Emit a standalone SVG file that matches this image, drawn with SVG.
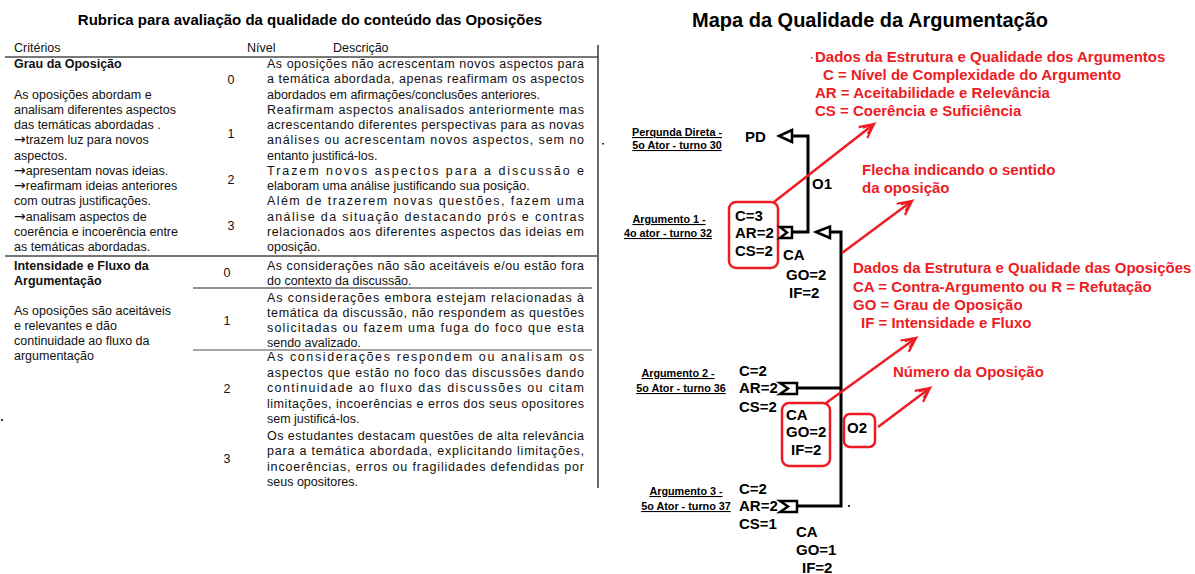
<svg xmlns="http://www.w3.org/2000/svg" width="1195" height="574" viewBox="0 0 1195 574">
<style>
.t{font-family:"Liberation Sans",Arial,sans-serif;font-size:12.5px;fill:#111}
.b{font-weight:bold}
.ar{font-family:"DejaVu Sans",sans-serif;font-size:14px}
.h1{font-family:"Liberation Sans",Arial,sans-serif;font-weight:bold;fill:#000}
.n{font-family:"Liberation Sans",Arial,sans-serif;font-weight:bold;font-size:15px;fill:#000}
.lab{font-family:"Liberation Sans",Arial,sans-serif;font-weight:bold;font-size:10.8px;fill:#000;text-decoration:underline}
.r{font-family:"Liberation Sans",Arial,sans-serif;font-weight:bold;font-size:15px;fill:#ed1c24}
.conn{stroke:#000;stroke-width:3;fill:none}
.tri{stroke:#000;stroke-width:2.5;fill:#fff;stroke-linejoin:miter}
.rbox{stroke:#ed1c24;stroke-width:2.5;fill:none}
.rarr{stroke:#ed1c24;stroke-width:2.5;fill:none;marker-end:url(#rh)}
</style>
<defs>
<marker id="rh" markerUnits="userSpaceOnUse" markerWidth="20" markerHeight="20" refX="16" refY="8" orient="auto">
<path d="M2,1 L16,8 L2,15 M5,4 L16,8 L5,12" stroke="#ed1c24" stroke-width="2.2" fill="none"/>
</marker>
</defs>
<rect width="1195" height="574" fill="#fff"/>

<g id="table">
<text class="h1" x="310" y="25" font-size="15" text-anchor="middle">Rubrica para avaliação da qualidade do conteúdo das Oposições</text>
<text class="t" x="14" y="52">Critérios</text>
<text class="t" x="247" y="52">Nível</text>
<text class="t" x="333" y="52">Descrição</text>
<line x1="5" y1="57" x2="598" y2="57" stroke="#777" stroke-width="2"/>
<line x1="598" y1="45" x2="598" y2="488" stroke="#333" stroke-width="1.5"/>
<line x1="5" y1="256" x2="598" y2="256" stroke="#777" stroke-width="2"/>
<line x1="193" y1="288" x2="592" y2="288" stroke="#222" stroke-width="1.2"/>
<line x1="193" y1="350" x2="592" y2="350" stroke="#888" stroke-width="1.5"/>

<text class="t b" x="14" y="68">Grau da Oposição</text>
<text class="t" x="14" y="98.5">As oposições abordam e</text>
<text class="t" x="14" y="113.75">analisam diferentes aspectos</text>
<text class="t" x="14" y="129">das temáticas abordadas .</text>
<text class="t" x="14" y="144.25"><tspan class="ar">→</tspan>trazem luz para novos</text>
<text class="t" x="14" y="159.5">aspectos.</text>
<text class="t" x="14" y="174.75"><tspan class="ar">→</tspan>apresentam novas ideias.</text>
<text class="t" x="14" y="190"><tspan class="ar">→</tspan>reafirmam ideias anteriores</text>
<text class="t" x="14" y="205.25">com outras justificações.</text>
<text class="t" x="14" y="220.5"><tspan class="ar">→</tspan>analisam aspectos de</text>
<text class="t" x="14" y="235.75">coerência e incoerência entre</text>
<text class="t" x="14" y="251">as temáticas abordadas.</text>

<text class="t" x="231" y="84" text-anchor="middle">0</text>
<text class="t" x="231" y="138" text-anchor="middle">1</text>
<text class="t" x="231" y="184" text-anchor="middle">2</text>
<text class="t" x="231" y="230" text-anchor="middle">3</text>

<text class="t" x="267" y="68" textLength="317" lengthAdjust="spacing">As oposições não  acrescentam novos aspectos para</text>
<text class="t" x="267" y="83.25" textLength="317" lengthAdjust="spacing">a temática abordada, apenas reafirmam os aspectos</text>
<text class="t" x="267" y="98.5">abordados em afirmações/conclusões anteriores.</text>
<text class="t" x="267" y="113.75" textLength="317" lengthAdjust="spacing">Reafirmam aspectos analisados anteriormente mas</text>
<text class="t" x="267" y="129" textLength="317" lengthAdjust="spacing">acrescentando diferentes perspectivas para as novas</text>
<text class="t" x="267" y="144.25" textLength="317" lengthAdjust="spacing">análises ou acrescentam novos aspectos, sem no</text>
<text class="t" x="267" y="159.5">entanto justificá-los.</text>
<text class="t" x="267" y="174.75" textLength="317" lengthAdjust="spacing">Trazem novos aspectos para a discussão e</text>
<text class="t" x="267" y="190">elaboram uma análise justificando sua posição.</text>
<text class="t" x="267" y="205.25" textLength="317" lengthAdjust="spacing">Além de trazerem novas questões, fazem uma</text>
<text class="t" x="267" y="220.5" textLength="317" lengthAdjust="spacing">análise da situação destacando prós e contras</text>
<text class="t" x="267" y="235.75" textLength="317" lengthAdjust="spacing">relacionados aos diferentes aspectos das ideias em</text>
<text class="t" x="267" y="251">oposição.</text>

<text class="t b" x="14" y="270">Intensidade e Fluxo da</text>
<text class="t b" x="14" y="285">Argumentação</text>
<text class="t" x="14" y="315">As oposições são aceitáveis</text>
<text class="t" x="14" y="330">e relevantes e dão</text>
<text class="t" x="14" y="345">continuidade ao fluxo da</text>
<text class="t" x="14" y="360">argumentação</text>

<text class="t" x="227" y="277" text-anchor="middle">0</text>
<text class="t" x="227" y="325" text-anchor="middle">1</text>
<text class="t" x="227" y="393" text-anchor="middle">2</text>
<text class="t" x="227" y="463" text-anchor="middle">3</text>

<text class="t" x="267" y="270" textLength="317" lengthAdjust="spacing">As considerações não são aceitáveis e/ou estão fora</text>
<text class="t" x="267" y="285">do contexto da discussão.</text>
<text class="t" x="267" y="302" textLength="317" lengthAdjust="spacing">As considerações embora estejam relacionadas à</text>
<text class="t" x="267" y="317" textLength="317" lengthAdjust="spacing">temática da discussão, não respondem as questões</text>
<text class="t" x="267" y="332" textLength="317" lengthAdjust="spacing">solicitadas ou fazem uma fuga do foco que esta</text>
<text class="t" x="267" y="347">sendo avalizado.</text>
<text class="t" x="267" y="361" textLength="317" lengthAdjust="spacing">As considerações respondem ou analisam os</text>
<text class="t" x="267" y="376.5" textLength="317" lengthAdjust="spacing">aspectos que estão no foco das discussões dando</text>
<text class="t" x="267" y="392" textLength="317" lengthAdjust="spacing">continuidade ao fluxo das discussões ou citam</text>
<text class="t" x="267" y="407.5" textLength="317" lengthAdjust="spacing">limitações, incoerências e erros dos seus opositores</text>
<text class="t" x="267" y="423">sem justificá-los.</text>
<text class="t" x="267" y="439.5" textLength="317" lengthAdjust="spacing">Os estudantes destacam questões de alta relevância</text>
<text class="t" x="267" y="455" textLength="317" lengthAdjust="spacing">para a temática abordada, explicitando limitações,</text>
<text class="t" x="267" y="470.5" textLength="317" lengthAdjust="spacing">incoerências, erros ou fragilidades defendidas por</text>
<text class="t" x="267" y="486">seus opositores.</text>
<rect x="1" y="419" width="2" height="2" fill="#333"/>
</g>

<g id="map-title">
<text class="h1" x="692" y="27" font-size="20">Mapa da Qualidade da Argumentação</text>
</g>

<g id="legend-arguments">
<rect x="811" y="57" width="1.5" height="1.5" fill="#555"/>
<text class="r" x="815" y="62">Dados da Estrutura e Qualidade dos Argumentos</text>
<text class="r" x="823" y="80">C = Nível de Complexidade do Argumento</text>
<text class="r" x="815" y="98">AR = Aceitabilidade e Relevância</text>
<text class="r" x="815" y="116">CS = Coerência e Suficiência</text>
</g>
<g id="legend-arrow">
<text class="r" x="862" y="175">Flecha indicando o sentido</text>
<text class="r" x="862" y="193">da oposição</text>
</g>
<g id="legend-opposition">
<text class="r" x="853" y="273">Dados da Estrutura e Qualidade das Oposições</text>
<text class="r" x="853" y="292">CA = Contra-Argumento ou R = Refutação</text>
<text class="r" x="853" y="310">GO = Grau de Oposição</text>
<text class="r" x="861" y="328">IF = Intensidade e Fluxo</text>
</g>
<g id="legend-number">
<text class="r" x="893" y="377">Número da Oposição</text>
</g>

<g id="labels">
<text class="lab" x="677" y="136" text-anchor="middle">Perqunda Direta -</text>
<text class="lab" x="677" y="149" text-anchor="middle">5o Ator - turno 30</text>
<text class="lab" x="669" y="223" text-anchor="middle">Argumento 1 -</text>
<text class="lab" x="668" y="237" text-anchor="middle">4o ator - turno 32</text>
<text class="lab" x="678" y="377" text-anchor="middle">Argumento 2 -</text>
<text class="lab" x="681" y="392" text-anchor="middle">5o Ator - turno 36</text>
<text class="lab" x="686" y="495" text-anchor="middle">Argumento 3 -</text>
<text class="lab" x="686" y="510" text-anchor="middle">5o Ator - turno 37</text>
<rect x="602" y="143" width="2" height="1.5" fill="#333"/>
</g>

<g id="node-PD">
<text class="n" x="745" y="142">PD</text>
</g>
<g id="node-arg1">
<rect class="rbox" x="729" y="202" width="49" height="66" rx="7"/>
<text class="n" x="735" y="221">C=3</text>
<text class="n" x="735" y="238">AR=2</text>
<text class="n" x="735" y="256">CS=2</text>
</g>
<g id="node-opp1">
<text class="n" x="812" y="189">O1</text>
<text class="n" x="783" y="260">CA</text>
<text class="n" x="786" y="280">GO=2</text>
<text class="n" x="789" y="298">IF=2</text>
</g>
<g id="node-arg2">
<text class="n" x="739" y="376">C=2</text>
<text class="n" x="739" y="393">AR=2</text>
<text class="n" x="739" y="412">CS=2</text>
</g>
<g id="node-opp2">
<rect class="rbox" x="782" y="403" width="48" height="63" rx="7"/>
<text class="n" x="786" y="420">CA</text>
<text class="n" x="786" y="437">GO=2</text>
<text class="n" x="791" y="455">IF=2</text>
<rect class="rbox" x="844" y="414" width="31" height="33" rx="6"/>
<text class="n" x="847" y="433">O2</text>
</g>
<g id="node-arg3">
<text class="n" x="739" y="494">C=2</text>
<text class="n" x="739" y="511">AR=2</text>
<text class="n" x="739" y="529">CS=1</text>
<text class="n" x="796" y="537">CA</text>
<text class="n" x="796" y="555">GO=1</text>
<text class="n" x="802" y="573">IF=2</text>
<rect x="848" y="505" width="2" height="2" fill="#333"/>
</g>

<g id="connectors">
<path class="conn" d="M792,136 H808 V232 H792"/>
<path class="tri" d="M779,136 L792,130 L792,142 Z"/>
<path class="tri" d="M792,227 L780,227 L787,232.5 L780,238 L792,238 Z"/>
<path class="conn" d="M830,232 H841 V506 H797"/>
<path class="tri" d="M816,232 L830,226.5 L830,238 Z"/>
<path class="conn" d="M797,388 H841"/>
<path class="tri" d="M797,383 L780,383 L788,388.5 L780,394 L797,394 Z"/>
<path class="tri" d="M797,501 L780,501 L788,506.5 L780,512 L797,512 Z"/>
<line class="rarr" x1="774" y1="202" x2="874" y2="124"/>
<line class="rarr" x1="842" y1="253" x2="912" y2="201"/>
<line class="rarr" x1="826" y1="403" x2="916" y2="338"/>
<line class="rarr" x1="878" y1="427" x2="930" y2="388"/>
</g>
</svg>
